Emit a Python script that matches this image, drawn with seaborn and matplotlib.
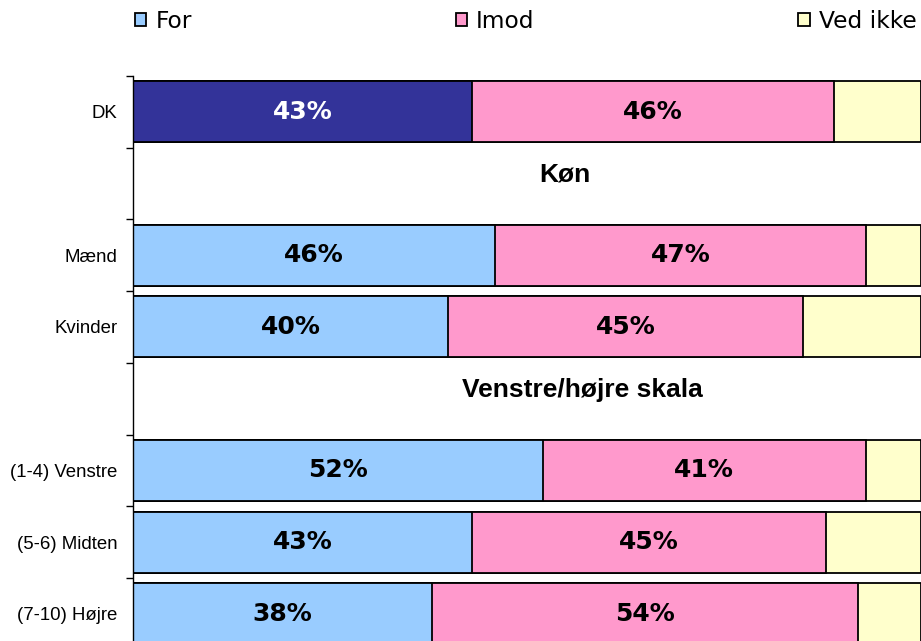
import numpy as np
import pandas as pd
import matplotlib
matplotlib.use("Agg")
import matplotlib.pyplot as plt
from matplotlib.patches import Patch
import seaborn as sns

# rows of the chart, top to bottom (header rows carry no bars)
rows = ["DK", "Køn", "Mænd", "Kvinder", "Venstre/højre skala",
        "(1-4) Venstre", "(5-6) Midten", "(7-10) Højre"]
headers = ["Køn", "Venstre/højre skala"]
header_x = [54.8, 57]

groups = ["DK", "Mænd", "Kvinder", "(1-4) Venstre", "(5-6) Midten", "(7-10) Højre"]
for_pct = [43, 46, 40, 52, 43, 38]
imod_pct = [46, 47, 45, 41, 45, 54]
vedikke_pct = [11, 7, 15, 7, 12, 8]

legend_labels = ["For", "Imod", "Ved ikke"]

BLUE = "#99CCFF"
DARK = "#333399"
PINK = "#FF99CC"
YELLOW = "#FFFFCC"

sns.set_style("white")
plt.rcParams["font.family"] = ["DejaVu Sans"]
plt.rcParams["text.color"] = "black"
plt.rcParams["ytick.color"] = "black"

df = pd.DataFrame({"group": groups, "For": for_pct, "Imod": imod_pct,
                   "Ved ikke": vedikke_pct})
df["c_imod"] = df["For"] + df["Imod"]
df["c_total"] = df["c_imod"] + df["Ved ikke"]

fig = plt.figure(figsize=(9.21, 6.41), dpi=100)
ax = fig.add_axes([133 / 921, -8.6 / 641, 1 - 133 / 921, 573.6 / 641])

kw = dict(y="group", order=rows, orient="h", width=0.85, edgecolor="black",
          linewidth=1.3, errorbar=None, saturation=1, ax=ax)
sns.barplot(data=df, x="c_total", color=YELLOW, **kw)
sns.barplot(data=df, x="c_imod", color=PINK, **kw)
pal = {g: (DARK if g == "DK" else BLUE) for g in groups}
sns.barplot(data=df, x="For", hue="group", palette=pal, dodge=False,
            legend=False, **kw)
for p in ax.patches:
    p.set_alpha(1)

ax.set_xlim(0, 100)
ax.set_ylim(len(rows) - 0.5, -0.5)

# value labels
for _, r in df.iterrows():
    y = rows.index(r["group"])
    ax.text(r["For"] / 2, y, f"{r['For']}%", ha="center", va="center",
            fontsize=18, fontweight="bold",
            color="white" if r["group"] == "DK" else "black")
    ax.text(r["For"] + r["Imod"] / 2, y, f"{r['Imod']}%", ha="center",
            va="center", fontsize=18, fontweight="bold", color="black")

# section headers
for h, hx in zip(headers, header_x):
    ax.text(hx, rows.index(h) - 0.12, h, ha="center", va="center",
            fontsize=19, fontweight="bold", family="Liberation Sans")

ax.set_xlabel("")
ax.set_ylabel("")
ax.set_xticks([])
ax.set_yticks(range(len(rows)))
ax.set_yticklabels(["" if r in headers else r for r in rows],
                   family="Liberation Sans", fontsize=13.4)
ax.set_yticks(np.arange(-0.5, len(rows), 1), minor=True)
ax.tick_params(axis="y", which="major", length=0, pad=11)
ax.tick_params(axis="y", which="minor", length=5, width=1, direction="out",
               left=True, color="black")
for s in ["top", "right", "bottom"]:
    ax.spines[s].set_visible(False)
ax.spines["left"].set_color("black")
ax.spines["left"].set_linewidth(1)

handles = [Patch(facecolor=c, edgecolor="black", linewidth=1.3)
           for c in [BLUE, PINK, YELLOW]]
fig.legend(handles, legend_labels, loc="upper left",
           bbox_to_anchor=(135 / 921, 1 - 10 / 641), ncol=3, frameon=False,
           fontsize=16.8, handlelength=0.48, handleheight=0.48,
           handletextpad=0.4, columnspacing=11.3, borderpad=0,
           borderaxespad=0)

fig.savefig("out.png", dpi=100)
